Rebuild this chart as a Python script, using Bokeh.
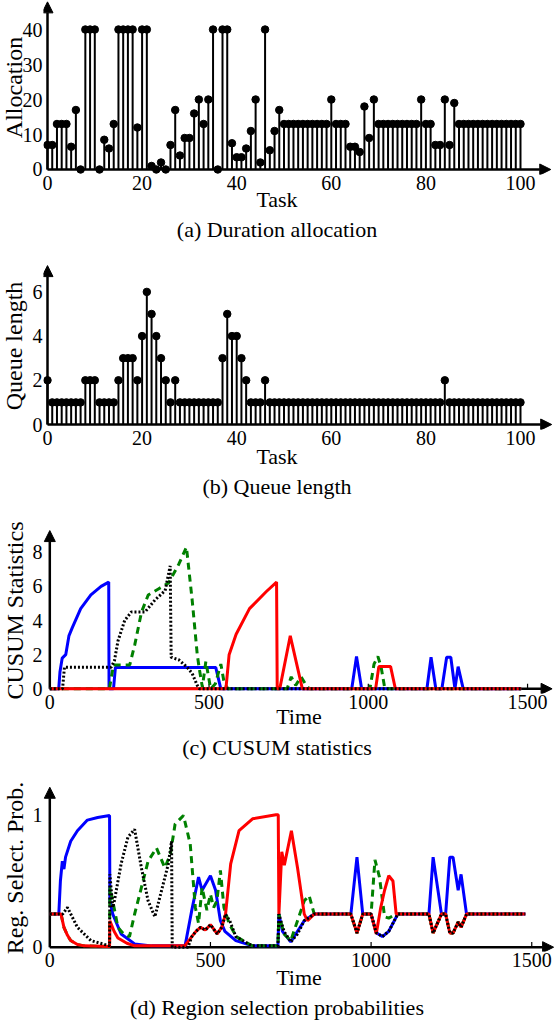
from bokeh.plotting import figure
from bokeh.layouts import column
from bokeh.models import Arrow, NormalHead, Title, Range1d, FixedTicker
from bokeh.embed import file_html
from bokeh.resources import INLINE

SERIF = "Liberation Serif"
TICK_SIZE = "20px"
XLABEL_SIZE = "22px"
YLABEL_SIZE = "24px"
CAPTION_SIZE = "22px"
PAD = "\u2007\u2007\u2007\u2007"   # figure spaces that pull centred text a little to the left
SHIFT = 8                         # the column is pulled left by this many pixels
LEFT = 43 + SHIFT                 # common left border of all four panels
WIDTH = 554 + SHIFT

# ---------------- (a) duration allocation per task ----------------
tasks = list(range(0, 101))
allocation = [7, 7, 13, 13, 13, 6.5, 17, 0, 40, 40,
              40, 0, 8.5, 6, 13, 40, 40, 40, 40, 12,
              40, 40, 1, 0, 2, 0, 7, 17, 4, 9,
              9, 16, 20, 13, 20, 40, 0, 40, 40, 7.5,
              3.5, 3.5, 6, 11, 20, 2, 40, 5.5, 11, 17,
              13, 13, 13, 13, 13, 13, 13, 13, 13, 13,
              20, 13, 13, 13, 6.5, 6.5, 5, 18, 9, 20,
              13, 13, 13, 13, 13, 13, 13, 13, 13, 20,
              13, 13, 7, 7, 20, 7, 19, 13, 13, 13,
              13, 13, 13, 13, 13, 13, 13, 13, 13, 13,
              13]
alloc_yticks = [0, 10, 20, 30, 40]

# ---------------- (b) queue length per task ----------------
queue_length = [2, 1, 1, 1, 1, 1, 1, 1, 2, 2,
                2, 1, 1, 1, 1, 2, 3, 3, 3, 2,
                4, 6, 5, 4, 3, 2, 1, 2, 1, 1,
                1, 1, 1, 1, 1, 1, 1, 3, 5, 4,
                4, 3, 2, 1, 1, 1, 2, 1, 1, 1,
                1, 1, 1, 1, 1, 1, 1, 1, 1, 1,
                1, 1, 1, 1, 1, 1, 1, 1, 1, 1,
                1, 1, 1, 1, 1, 1, 1, 1, 1, 1,
                1, 1, 1, 1, 2, 1, 1, 1, 1, 1,
                1, 1, 1, 1, 1, 1, 1, 1, 1, 1,
                1]
queue_yticks = [0, 2, 4, 6]
task_xticks = [0, 20, 40, 60, 80, 100]

# ---------------- (c) CUSUM statistics over time ----------------
cusum_t_blue = [0, 28, 32, 39, 50, 60, 71, 97, 129, 161, 185, 186, 200, 206, 521, 537,
                948, 963, 979, 1184, 1197, 1212, 1231, 1246, 1259, 1272, 1282, 1298, 1480]
cusum_blue = [0, 0, 1.0, 1.8, 2.0, 3.1, 3.6, 4.7, 5.5, 6.0, 6.25, 0, 0, 1.25, 1.25, 0,
              0, 1.9, 0, 0, 1.85, 0, 0, 1.85, 1.85, 0, 1.3, 0, 0]

cusum_t_black = [0, 40, 46, 193, 203, 214, 235, 256, 299, 330, 362, 378, 381, 405, 431,
                 447, 463, 470, 1480]
cusum_black = [0, 0, 1.27, 1.27, 1.65, 2.8, 4.0, 4.5, 4.5, 5.2, 5.75, 7.2, 1.85, 1.7, 1.27,
               0.9, 0.2, 0, 0]

cusum_t_green = [0, 187, 200, 251, 267, 288, 309, 341, 373, 405, 429, 447, 463, 470, 479,
                 490, 505, 520, 537, 548, 560, 745, 758, 772, 789, 805, 815, 1005, 1018,
                 1030, 1040, 1052, 1480]
cusum_green = [0, 0, 1.4, 1.4, 2.6, 4.5, 5.5, 5.85, 6.2, 7.3, 8.3, 5.2, 2.0, 1.1, 0.1,
               1.6, 0, 0.3, 1.45, 0.3, 0, 0, 0.7, 0.2, 0.7, 0.2, 0, 0, 1.45,
               1.9, 1.3, 0, 0]

cusum_t_red = [0, 553, 563, 585, 627, 680, 712, 714, 722, 755, 793, 1023, 1033, 1070, 1085, 1480]
cusum_red = [0, 0, 2.0, 3.2, 4.7, 5.7, 6.25, 0, 0, 3.1, 0, 0, 1.3, 1.3, 0, 0]
cusum_yticks = [0, 2, 4, 6, 8]

# ---------------- (d) region selection probabilities ----------------
prob_t_blue = [0, 28, 33, 39, 44, 49, 65, 86, 117, 149, 186, 187, 196, 222, 264, 317, 421,
               442, 463, 474, 500, 516, 531, 545, 579, 631, 710, 713, 724, 750, 792, 823,
               937, 956, 974, 1000, 1016, 1035, 1055, 1083, 1180, 1193, 1219, 1232, 1245,
               1255, 1271, 1280, 1297, 1480]
prob_blue = [0.25, 0.25, 0.5, 0.65, 0.59, 0.68, 0.8, 0.88, 0.96, 0.98, 0.995, 0.35, 0.25,
             0.1, 0.025, 0.01, 0.01, 0.28, 0.53, 0.43, 0.54, 0.43, 0.2, 0.12, 0.05, 0.01,
             0.01, 0.25, 0.12, 0.04, 0.2, 0.25, 0.25, 0.68, 0.25, 0.25, 0.11, 0.08, 0.12,
             0.25, 0.25, 0.68, 0.25, 0.25, 0.68, 0.68, 0.43, 0.55, 0.25, 0.25]

prob_t_green = [0, 35, 44, 55, 65, 86, 107, 186, 187, 200, 212, 230, 248, 264, 285, 306,
                332, 358, 375, 390, 416, 437, 453, 463, 474, 489, 500, 510, 520, 531,
                542, 558, 580, 630, 710, 713, 729, 750, 771, 792, 807, 823, 937, 956, 974,
                1000, 1012, 1026, 1042, 1055, 1078, 1180, 1193, 1219, 1232, 1245, 1255,
                1271, 1280, 1297, 1480]
prob_green = [0.25, 0.25, 0.15, 0.09, 0.05, 0.02, 0.01, 0.005, 0.45, 0.3, 0.15, 0.1, 0.08,
              0.25, 0.45, 0.65, 0.75, 0.6, 0.7, 0.93, 0.995, 0.78, 0.3, 0.18, 0.45,
              0.28, 0.4, 0.3, 0.35, 0.58, 0.3, 0.18, 0.08, 0.01, 0.01, 0.25, 0.1, 0.05,
              0.2, 0.35, 0.39, 0.25, 0.25, 0.107, 0.25, 0.25, 0.66, 0.53, 0.23, 0.22, 0.25,
              0.25, 0.107, 0.25, 0.25, 0.107, 0.107, 0.19, 0.15, 0.25, 0.25]

prob_t_red = [0, 35, 44, 55, 65, 86, 107, 186, 187, 200, 212, 240, 264, 420, 442, 455, 469,
              484, 500, 521, 535, 547, 563, 589, 631, 704, 711, 713, 722, 730, 752, 771,
              792, 802, 823, 937, 956, 974, 1000, 1016, 1030, 1042, 1055, 1068, 1078, 1180,
              1193, 1219, 1232, 1245, 1255, 1271, 1280, 1297, 1480]
prob_red = [0.25, 0.25, 0.15, 0.09, 0.05, 0.02, 0.01, 0.005, 0.2, 0.12, 0.07, 0.03, 0.01,
            0.01, 0.08, 0.12, 0.15, 0.13, 0.17, 0.1, 0.15, 0.25, 0.63, 0.88, 0.97, 1.0, 1.0,
            0.25, 0.72, 0.62, 0.88, 0.6, 0.25, 0.2, 0.25, 0.25, 0.107, 0.25, 0.25, 0.1, 0.3,
            0.43, 0.54, 0.5, 0.25, 0.25, 0.107, 0.25, 0.25, 0.107, 0.107, 0.19, 0.15, 0.25,
            0.25]

prob_t_black = [0, 40, 55, 86, 128, 186, 187, 196, 201, 222, 243, 264, 285, 306, 327, 348,
                369, 379, 381, 430, 442, 455, 469, 484, 500, 521, 535, 547, 560, 579, 630,
                710, 713, 729, 750, 771, 792, 823, 937, 956, 974, 1000, 1016, 1035, 1055,
                1083, 1180, 1193, 1219, 1232, 1245, 1255, 1271, 1280, 1297, 1480]
prob_black = [0.25, 0.25, 0.3, 0.15, 0.05, 0.01, 0.55, 0.3, 0.35, 0.63, 0.83, 0.89, 0.6,
              0.35, 0.23, 0.43, 0.63, 0.8, 0.0, 0.0, 0.08, 0.12, 0.15, 0.13, 0.17, 0.1, 0.15,
              0.25, 0.2, 0.08, 0.01, 0.01, 0.25, 0.12, 0.04, 0.1, 0.2, 0.25, 0.25, 0.107,
              0.25, 0.25, 0.11, 0.08, 0.12, 0.25, 0.25, 0.107, 0.25, 0.25, 0.107, 0.107,
              0.19, 0.15, 0.25, 0.25]
prob_yticks = [0, 1]
time_xticks = [0, 500, 1000, 1500]

BLUE = "#0000ff"
RED = "#ff0000"
GREEN = "#008000"


def make_panel(height, xr, yr, top, bottom, xticks, yticks, xlabel, ylabel, caption,
               ylabel_standoff, xlabel_standoff, caption_standoff, x_tip, y_tip):
    p = figure(width=WIDTH, height=height, x_range=Range1d(*xr), y_range=Range1d(*yr),
               output_backend="svg", toolbar_location=None,
               min_border_left=LEFT, min_border_right=0, min_border_top=top,
               min_border_bottom=bottom)
    p.outline_line_color = None
    p.background_fill_color = "white"
    p.border_fill_color = "white"
    p.xgrid.visible = False
    p.ygrid.visible = False
    for ax in (p.xaxis[0], p.yaxis[0]):
        ax.axis_line_color = None
        ax.major_tick_line_color = None
        ax.minor_tick_line_color = None
        ax.major_tick_in = 0
        ax.major_tick_out = 0
        ax.minor_tick_in = 0
        ax.minor_tick_out = 0
        ax.major_label_text_font = SERIF
        ax.major_label_text_font_size = TICK_SIZE
        ax.major_label_text_color = "black"
        ax.axis_label_text_font = SERIF
        ax.axis_label_text_font_style = "normal"
        ax.axis_label_text_color = "black"
        ax.major_label_standoff = 1
    p.xaxis[0].axis_label_text_font_size = XLABEL_SIZE
    p.yaxis[0].axis_label_text_font_size = YLABEL_SIZE
    p.xaxis[0].ticker = FixedTicker(ticks=xticks)
    p.yaxis[0].ticker = FixedTicker(ticks=yticks)
    p.xaxis[0].axis_label = xlabel
    p.yaxis[0].axis_label = ylabel
    p.xaxis[0].axis_label_standoff = xlabel_standoff
    p.yaxis[0].axis_label_standoff = ylabel_standoff

    # arrow-headed axes through the origin
    head = dict(size=11, fill_color="black", line_color="black", line_width=1)
    p.add_layout(Arrow(end=NormalHead(**head), x_start=0, y_start=0, x_end=x_tip, y_end=0,
                       line_width=2.5, line_color="black", level="underlay"))
    p.add_layout(Arrow(end=NormalHead(**head), x_start=0, y_start=0, x_end=0, y_end=y_tip,
                       line_width=2.5, line_color="black", level="underlay"))

    p.add_layout(Title(text=caption, align="center", text_font=SERIF,
                       text_font_size=CAPTION_SIZE, text_font_style="normal",
                       text_color="black", standoff=caption_standoff), "below")
    return p


# (a): 4.73 px per task, 3.5 px per allocation unit
pa = make_panel(250, (-0.846, 107.19), (-1.429, 48.29), 0, 76,
                task_xticks, alloc_yticks, "Task" + PAD, "Allocation",
                "(a) Duration allocation" + PAD,
                ylabel_standoff=-7, xlabel_standoff=-6, caption_standoff=0,
                x_tip=106.4, y_tip=47.9)
pa.segment(x0=tasks, y0=[0] * len(tasks), x1=tasks, y1=allocation,
           line_width=2, line_color="black")
pa.scatter(tasks, allocation, size=7.5, marker="circle", fill_color="black",
           line_color="black")

# (b): 4.73 px per task, 22.1 px per queue unit
pb = make_panel(265, (-0.846, 107.19), (-0.226, 7.33), 12, 86,
                task_xticks, queue_yticks, "Task" + PAD, "Queue length",
                "(b) Queue length" + PAD,
                ylabel_standoff=3, xlabel_standoff=-4, caption_standoff=0,
                x_tip=106.6, y_tip=7.19)
pb.segment(x0=tasks, y0=[0] * len(tasks), x1=tasks, y1=queue_length,
           line_width=2, line_color="black")
pb.scatter(tasks, queue_length, size=7.5, marker="circle", fill_color="black",
           line_color="black")

# (c): CUSUM statistics
pc = make_panel(260, (-19.78, 1584.6), (-0.275, 9.45), 12, 82,
                time_xticks, cusum_yticks, "Time", "CUSUM Statistics",
                "(c) CUSUM statistics" + PAD,
                ylabel_standoff=2, xlabel_standoff=-8, caption_standoff=3,
                x_tip=1577, y_tip=9.27)
pc.segment(x0=time_xticks, y0=[0] * len(time_xticks), x1=time_xticks,
           y1=[0.3] * len(time_xticks), line_width=1.2, line_color="black")
pc.line(cusum_t_blue, cusum_blue, line_width=3, line_color=BLUE)
pc.line(cusum_t_green, cusum_green, line_width=3, line_color=GREEN, line_dash="7 5")
pc.line(cusum_t_red, cusum_red, line_width=3, line_color=RED)
pc.line(cusum_t_black, cusum_black, line_width=3, line_color="black", line_dash="2 2")

# (d): region selection probabilities
pd_ = make_panel(245, (-19.6, 1570.8), (-0.0325, 1.2288), 9, 69,
                 time_xticks, prob_yticks, "Time", "Reg. Select. Prob.",
                 "(d) Region selection probabilities" + PAD,
                 ylabel_standoff=2, xlabel_standoff=-5, caption_standoff=0,
                 x_tip=1568, y_tip=1.208)
pd_.segment(x0=time_xticks, y0=[0] * len(time_xticks), x1=time_xticks,
            y1=[0.04] * len(time_xticks), line_width=1.2, line_color="black")
pd_.line(prob_t_blue, prob_blue, line_width=3, line_color=BLUE)
pd_.line(prob_t_green, prob_green, line_width=3, line_color=GREEN, line_dash="7 5")
pd_.line(prob_t_red, prob_red, line_width=3, line_color=RED)
pd_.line(prob_t_black, prob_black, line_width=3, line_color="black", line_dash="2 2")

layout = column(pa, pb, pc, pd_, spacing=0, margin=(0, 0, 0, -SHIFT))
open("out.html", "w").write(file_html(layout, INLINE))
